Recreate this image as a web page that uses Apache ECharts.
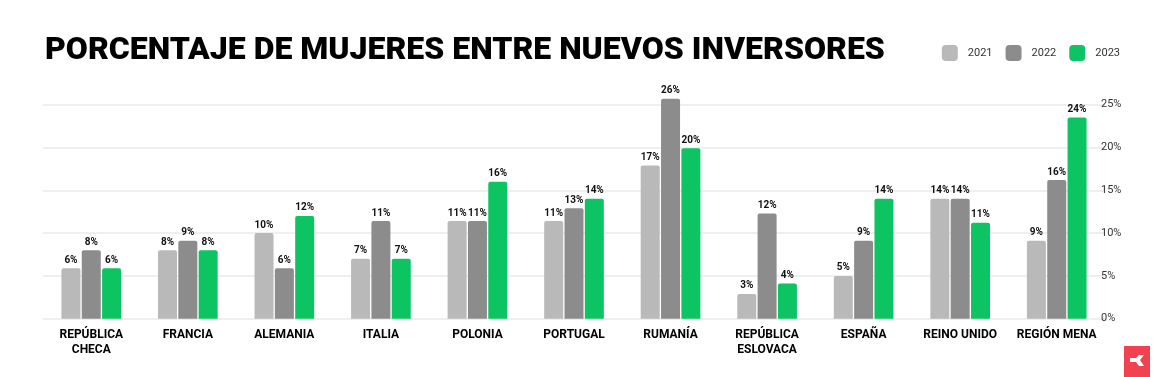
<!DOCTYPE html>
<html>
<head>
<meta charset="utf-8">
<script src="https://cdn.jsdelivr.net/npm/echarts@6/dist/echarts.min.js"></script>
<style>
  html, body { margin: 0; padding: 0; background: #fff; }
  #chart { width: 1154px; height: 377px; }
</style>
</head>
<body>
<div id="chart"></div>
<script>
// categories (countries)
const categories = ['REPÚBLICA\nCHECA', 'FRANCIA', 'ALEMANIA', 'ITALIA', 'POLONIA', 'PORTUGAL',
  'RUMANÍA', 'REPÚBLICA\nESLOVACA', 'ESPAÑA', 'REINO UNIDO', 'REGIÓN MENA'];

// bar heights (% of new investors who are women)
const values2021 = [5.9, 8.0, 10.0, 7.0, 11.4, 11.4, 17.9, 2.9, 5.0, 14.0, 9.1];
const values2022 = [8.0, 9.1, 5.9, 11.4, 11.4, 12.9, 25.7, 12.3, 9.1, 14.0, 16.2];
const values2023 = [5.9, 8.0, 12.0, 7.0, 16.0, 14.0, 19.9, 4.1, 14.0, 11.2, 23.5];

// labels printed above bars, as shown in the source
const labels2021 = [6, 8, 10, 7, 11, 11, 17, 3, 5, 14, 9];
const labels2022 = [8, 9, 6, 11, 11, 13, 26, 12, 9, 14, 16];
const labels2023 = [6, 8, 12, 7, 16, 14, 20, 4, 14, 11, 24];

const yTicks = [0, 5, 10, 15, 20, 25];

const chart = echarts.init(document.getElementById('chart'));

function makeSeries(name, values, labels, color) {
  return {
    name: name,
    type: 'bar',
    data: values,
    barWidth: 19,
    barGap: '7%',
    clip: false,
    itemStyle: { color: color, borderRadius: [2, 2, 0, 0] },
    label: {
      show: true,
      position: 'top',
      distance: 3,
      fontFamily: 'Roboto',
      fontWeight: 'bold',
      fontSize: 10,
      color: '#111',
      formatter: (p) => labels[p.dataIndex] + '%'
    }
  };
}

const option = {
  backgroundColor: '#fff',
  animation: false,
  textStyle: { fontFamily: 'Roboto' },
  title: {
    text: 'PORCENTAJE DE MUJERES ENTRE NUEVOS INVERSORES',
    left: 40,
    top: 30,
    textStyle: { fontFamily: 'Roboto', fontWeight: 900, fontSize: 32, color: '#000' }
  },
  legend: {
    right: 29,
    top: 40,
    itemWidth: 16,
    itemHeight: 16,
    itemGap: 13,
    icon: 'roundRect',
    textStyle: { fontFamily: 'Roboto', fontSize: 11, color: '#333', padding: [0, 0, 0, 5] },
    data: ['2021', '2022', '2023']
  },
  grid: { left: 43, right: 49, top: 104.7, bottom: 58.3, containLabel: false },
  xAxis: {
    type: 'category',
    data: categories,
    axisLine: { show: false },
    axisTick: { show: false },
    axisLabel: {
      interval: 0,
      margin: 9,
      fontFamily: 'Roboto',
      fontWeight: 'bold',
      fontSize: 12,
      lineHeight: 15,
      color: '#000'
    }
  },
  yAxis: {
    type: 'value',
    position: 'right',
    min: yTicks[0],
    max: yTicks[yTicks.length - 1],
    interval: 5,
    axisLine: { show: false },
    axisTick: { show: false },
    splitLine: { lineStyle: { color: '#efefef', width: 2 } },
    axisLabel: {
      margin: -4,
      fontFamily: 'Roboto',
      fontSize: 11,
      color: '#333',
      formatter: '{value}%'
    }
  },
  series: [
    makeSeries('2021', values2021, labels2021, '#b9b9b9'),
    makeSeries('2022', values2022, labels2022, '#8c8c8c'),
    makeSeries('2023', values2023, labels2023, '#0cc562')
  ],
  graphic: [
    {
      type: 'rect',
      right: 4,
      bottom: 0,
      shape: { width: 26, height: 31 },
      style: { fill: '#f0424f' }
    },
    {
      type: 'polygon',
      left: 1130,
      top: 355,
      shape: {
        points: [[0, 3], [6, 3], [9, 0], [14, 0], [10, 5], [14, 11], [9, 11], [6, 7], [0, 7]]
      },
      style: { fill: '#fff' }
    }
  ]
};

chart.setOption(option);
</script>
</body>
</html>
